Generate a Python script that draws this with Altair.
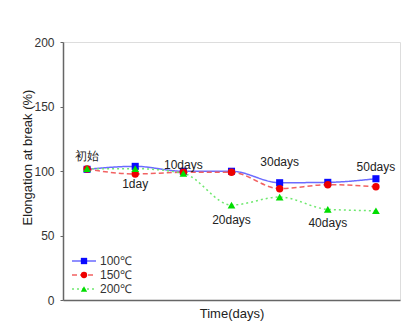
import altair as alt
import pandas as pd

days = ["初始", "1day", "10days", "20days", "30days", "40days", "50days"]
series_names = ["100℃", "150℃", "200℃"]
v100 = [101.3, 103.6, 99.8, 99.8, 90.9, 91.2, 94.0]
v150 = [101.5, 97.7, 99.0, 99.0, 86.3, 89.4, 87.8]
v200 = [101.8, 101.8, 98.2, 73.6, 79.8, 70.3, 69.2]
label_y = [112, 90, 105, 62, 107, 60, 103]

rows = []
for s, vals in zip(series_names, [v100, v150, v200]):
    for i, (d, v) in enumerate(zip(days, vals)):
        rows.append({"series": s, "idx": i, "day": d, "value": v})
df = pd.DataFrame(rows)
lab = pd.DataFrame({"idx": list(range(len(days))), "day": days, "ly": label_y})
leg = pd.DataFrame({"series": series_names})

line_col = alt.Scale(domain=series_names, range=["#6b6bff", "#f26262", "#6fe86f"])
mark_col = alt.Scale(domain=series_names, range=["#0a0aff", "#ee0000", "#00dd00"])
dash = alt.Scale(domain=series_names, range=[[1, 0], [5, 3], [2, 3]])
shape = alt.Scale(domain=series_names, range=["square", "circle", "triangle-up"])
msize = alt.Scale(domain=series_names, range=[50, 60, 95])

xs = alt.X("idx:Q", scale=alt.Scale(domain=[-0.5, 6.5], nice=False),
           axis=alt.Axis(labels=False, ticks=False, grid=False, title="Time(days)",
                         titleFont="Liberation Sans", titleFontSize=13, titleFontWeight="normal",
                         titleColor="#222", titlePadding=7, domainColor="#666", domainWidth=1.5))
ys = alt.Y("value:Q", scale=alt.Scale(domain=[0, 200], nice=False),
           axis=alt.Axis(values=[0, 50, 100, 150, 200], grid=False, title="Elongation at break (%)",
                         labelFont="Liberation Sans", labelFontSize=12, labelColor="#333",
                         labelPadding=6, tickSize=3, tickColor="#666",
                         titleFont="Liberation Sans", titleFontSize=13, titleFontWeight="normal",
                         titleColor="#222", titlePadding=-1, titleY=115,
                         domainColor="#666", domainWidth=1.5))

lines = alt.Chart(df).mark_line(interpolate="monotone", strokeWidth=1.5).encode(
    x=xs, y=ys,
    stroke=alt.Stroke("series:N", scale=line_col, legend=None),
    strokeDash=alt.StrokeDash("series:N", scale=dash, legend=None),
    detail="series:N",
)
pts = alt.Chart(df).mark_point(filled=True, opacity=1, strokeWidth=0).encode(
    x="idx:Q", y="value:Q",
    fill=alt.Fill("series:N", scale=mark_col, legend=None),
    shape=alt.Shape("series:N", scale=shape, legend=None),
    size=alt.Size("series:N", scale=msize, legend=None),
)
labels = alt.Chart(lab).mark_text(font="Liberation Sans", fontSize=12, color="#222").encode(
    x="idx:Q", y=alt.Y("ly:Q"), text="day:N"
)

ly = alt.Y("series:N", scale=alt.Scale(type="point", domain=series_names, range=[219, 247], padding=0), axis=None)
leg_line = alt.Chart(leg).mark_rule(strokeWidth=1.5).encode(
    x=alt.value(9), x2=alt.value(33), y=ly,
    stroke=alt.Stroke("series:N", scale=line_col, legend=None),
    strokeDash=alt.StrokeDash("series:N", scale=dash, legend=None),
)
leg_pt = alt.Chart(leg).mark_point(filled=True, opacity=1, strokeWidth=0).encode(
    x=alt.value(21), y=ly,
    fill=alt.Fill("series:N", scale=mark_col, legend=None),
    shape=alt.Shape("series:N", scale=shape, legend=None),
    size=alt.value(40),
)
leg_txt = alt.Chart(leg).mark_text(align="left", baseline="middle", font="Liberation Sans",
                                   fontSize=12, color="#333").encode(
    x=alt.value(37), y=ly, text="series:N"
)

main = alt.layer(lines, pts, labels)
legend = alt.layer(leg_line, leg_pt, leg_txt)

chart = alt.layer(main, legend).resolve_scale(y="independent").properties(
    width=337, height=258,
    autosize="none",
    padding={"left": 63, "top": 42, "right": 18, "bottom": 24},
).configure_view(stroke=None).configure(background="white")

chart.save("out.html", embed_options={"renderer": "svg", "actions": False})
